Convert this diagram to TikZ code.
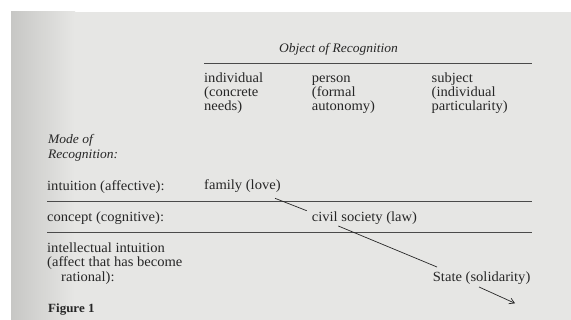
\documentclass[tikz,border=0pt]{standalone}
\usepackage{fontspec}
\setmainfont[FakeStretch=1.04]{Liberation Serif}
\usetikzlibrary{arrows.meta}
\definecolor{paper}{HTML}{E6E6E4}
\definecolor{edge}{HTML}{C7C7C5}
\definecolor{ink}{HTML}{262626}
\definecolor{rule}{HTML}{4A4A4A}
\tikzset{
  txt/.style={anchor=base west, inner sep=0pt, text=ink,
    font=\fontsize{14}{15}\selectfont},
  ital/.style={txt, font=\fontsize{13}{14}\selectfont\itshape},
  rowrule/.style={draw=rule, line width=0.9pt},
  diag/.style={draw=ink, line width=0.7pt},
}
\begin{document}
\begin{tikzpicture}[x=1pt,y=-1pt]
\useasboundingbox (0,0) rectangle (571,320);
\fill[white] (0,0) rectangle (571,320);
\fill[paper] (11,12) rectangle (571,320);
\shade[left color=edge, right color=paper] (11,12) rectangle (75,320);

% heading
\node[ital] (obj) at (279,53) {Object of Recognition};
\coordinate (h1) at (204,63.5);
\coordinate (h2) at (531.5,63.5);
\draw[rowrule] (h1) -- (h2);

\node[txt] (c1a) at (204,83) {individual};
\node[txt] (c1b) at (204,96.7) {(concrete};
\node[txt] (c1c) at (204,110.2) {needs)};
\node[txt] (c2a) at (311.7,83) {person};
\node[txt] (c2b) at (311.7,96.7) {(formal};
\node[txt] (c2c) at (311.7,110.2) {autonomy)};
\node[txt] (c3a) at (431.5,83) {subject};
\node[txt] (c3b) at (431.5,96.7) {(individual};
\node[txt] (c3c) at (431.5,110.2) {particularity)};

\node[ital] (mode1) at (48,144) {Mode of};
\node[ital] (mode2) at (48,158.3) {Recognition:};

% rows
\node[txt] (r1) at (47,190.5) {intuition (affective):};
\node[txt] (fam) at (204,190) {family (love)};
\coordinate (l1a) at (47,201.7);
\coordinate (l1b) at (531.5,201.7);
\draw[rowrule] (l1a) -- (l1b);

\node[txt] (r2) at (47,221.7) {concept (cognitive):};
\node[txt] (civ) at (311.7,221.7) {civil society (law)};
\coordinate (l2a) at (47,232.7);
\coordinate (l2b) at (531.5,232.7);
\draw[rowrule] (l2a) -- (l2b);

\node[txt] (r3a) at (47,252.7) {intellectual intuition};
\node[txt] (r3b) at (47,266.9) {(affect that has become};
\node[txt] (r3c) at (61,281.3) {rational):};
\node[txt] (state) at (432.7,282) {State (solidarity)};

\node[txt, font=\fontsize{12.5}{12.5}\selectfont\bfseries] (fig) at (48,312.5) {Figure 1};

% diagonal connectors
\coordinate (d1a) at (275,198.3);
\coordinate (d1b) at (306.7,210.7);
\draw[diag] (d1a) -- (d1b);
\coordinate (d2a) at (338.3,226);
\coordinate (d2b) at (437,267);
\draw[diag] (d2a) -- (d2b);
\coordinate (d3a) at (479,287);
\coordinate (d3b) at (515,303.3);
\draw[diag, -{Straight Barb[length=5pt,width=6pt]}] (d3a) -- (d3b);
\end{tikzpicture}
\end{document}
